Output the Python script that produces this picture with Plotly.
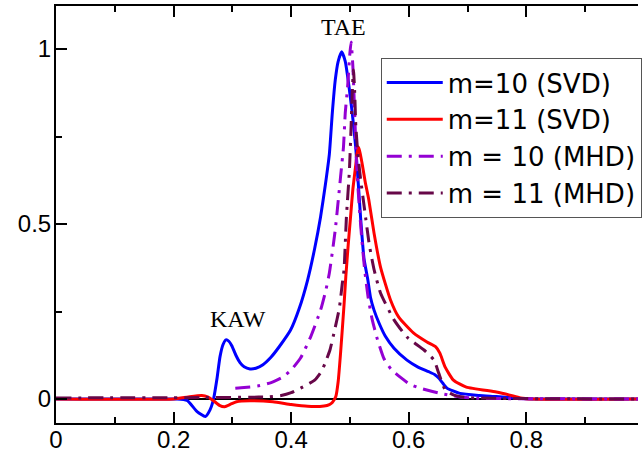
import plotly.graph_objects as go

# m=10 (SVD)
blue_x = [0.0, 0.18, 0.205, 0.223, 0.24, 0.254, 0.262, 0.268, 0.274, 0.279, 0.284, 0.289, 0.294, 0.299,
          0.306, 0.313, 0.32, 0.33, 0.34, 0.352, 0.366, 0.38, 0.399, 0.414, 0.428, 0.44, 0.45, 0.458,
          0.465, 0.470, 0.475, 0.48, 0.486, 0.492, 0.497, 0.504, 0.51, 0.518, 0.524, 0.53, 0.535, 0.541,
          0.55, 0.56, 0.575, 0.597, 0.615, 0.634, 0.644, 0.651, 0.658, 0.665, 0.687, 0.72, 0.749, 0.78,
          0.82, 0.99]
blue_y = [0.0, 0.0, 0.0, -0.004, -0.036, -0.05, -0.031, 0.0, 0.06, 0.121, 0.155, 0.169, 0.165, 0.152,
          0.125, 0.104, 0.092, 0.086, 0.088, 0.098, 0.12, 0.15, 0.197, 0.26, 0.34, 0.43, 0.52, 0.61,
          0.70, 0.817, 0.911, 0.965, 0.992, 0.965, 0.911, 0.816, 0.716, 0.521, 0.40, 0.345, 0.29, 0.254,
          0.215, 0.18, 0.145, 0.111, 0.092, 0.078, 0.07, 0.06, 0.045, 0.031, 0.016, 0.01, 0.007, 0.003,
          0.0, 0.0]

# m=11 (SVD)
red_x = [0.0, 0.2, 0.225, 0.248, 0.258, 0.268, 0.278, 0.287, 0.297, 0.307, 0.33, 0.369, 0.40, 0.428,
         0.456, 0.465, 0.47, 0.476, 0.48, 0.484, 0.49, 0.493, 0.497, 0.501, 0.505, 0.51, 0.512, 0.5145,
         0.517, 0.521, 0.526, 0.532, 0.541, 0.552, 0.569, 0.583, 0.608, 0.631, 0.646, 0.653, 0.662, 0.676,
         0.698, 0.749, 0.772, 0.79, 0.81, 0.99]
red_y = [0.0, 0.0, 0.006, 0.01, 0.006, -0.005, -0.018, -0.022, -0.015, -0.008, -0.005, -0.008, -0.016, -0.021,
         -0.02, -0.016, -0.01, 0.007, 0.05, 0.13, 0.27, 0.35, 0.44, 0.52, 0.60, 0.67, 0.70, 0.72,
         0.705, 0.67, 0.62, 0.57, 0.474, 0.377, 0.283, 0.234, 0.189, 0.163, 0.149, 0.131, 0.091, 0.054,
         0.034, 0.02, 0.011, 0.003, 0.0, 0.0]

# m = 10 (MHD)
vio_x = [0.305, 0.32, 0.343, 0.366, 0.386, 0.40, 0.416, 0.433, 0.45, 0.459, 0.465, 0.475, 0.484, 0.489,
         0.492, 0.496, 0.50, 0.502, 0.505, 0.508, 0.511, 0.515, 0.52, 0.525, 0.531, 0.538, 0.547, 0.558,
         0.57, 0.585, 0.602, 0.619, 0.651, 0.687, 0.72, 0.99]
vio_y = [0.031, 0.033, 0.037, 0.047, 0.063, 0.083, 0.117, 0.177, 0.254, 0.311, 0.36, 0.483, 0.634, 0.72,
         0.817, 0.891, 0.99, 1.02, 0.95, 0.82, 0.68, 0.57, 0.46, 0.37, 0.29, 0.226, 0.169, 0.115,
         0.085, 0.063, 0.042, 0.031, 0.017, 0.006, 0.002, 0.0]

# m = 11 (MHD)
mar_x = [0.0, 0.25, 0.33, 0.36, 0.383, 0.40, 0.416, 0.44, 0.452, 0.459, 0.466, 0.474, 0.482, 0.487, 0.49,
         0.494, 0.499, 0.502, 0.504, 0.506, 0.508, 0.510, 0.514, 0.518, 0.525, 0.533, 0.541, 0.552, 0.575,
         0.597, 0.626, 0.643, 0.651, 0.662, 0.677, 0.70, 0.99]
mar_y = [0.003, 0.004, 0.005, 0.006, 0.01, 0.018, 0.031, 0.054, 0.08, 0.108, 0.14, 0.197, 0.26, 0.33, 0.37,
         0.52, 0.65, 0.78, 0.88, 0.94, 0.88, 0.78, 0.69, 0.63, 0.54, 0.44, 0.37, 0.303, 0.226,
         0.177, 0.14, 0.111, 0.074, 0.026, 0.011, 0.004, 0.0]

series_names = ["m=10 (SVD)", "m=11 (SVD)", "m = 10 (MHD)", "m = 11 (MHD)"]
annot_text = ["TAE", "KAW"]
annot_x = [0.489, 0.31]
annot_y = [1.063, 0.229]

dashdot = "15px,7px,3px,7px"

fig = go.Figure()
fig.add_trace(go.Scatter(x=blue_x, y=blue_y, mode="lines", name=series_names[0],
                         line=dict(color="#0000FF", width=3, shape="spline", smoothing=0.5)))
fig.add_trace(go.Scatter(x=red_x, y=red_y, mode="lines", name=series_names[1],
                         line=dict(color="#FF0000", width=3, shape="spline", smoothing=0.5)))
fig.add_trace(go.Scatter(x=vio_x, y=vio_y, mode="lines", name=series_names[2],
                         line=dict(color="#9400D3", width=3, dash=dashdot, shape="spline", smoothing=0.5)))
fig.add_trace(go.Scatter(x=mar_x, y=mar_y, mode="lines", name=series_names[3],
                         line=dict(color="#670748", width=3, dash=dashdot, shape="spline", smoothing=0.5)))

for t, ax, ay in zip(annot_text, annot_x, annot_y):
    fig.add_annotation(x=ax, y=ay, text=t, showarrow=False,
                       font=dict(family="Liberation Serif, Times New Roman, serif", size=24, color="black"))

tickfont = dict(family="Liberation Sans, Arial, sans-serif", size=24, color="black")
fig.update_layout(
    width=642, height=452,
    margin=dict(l=56, r=0, t=6, b=29),
    paper_bgcolor="white", plot_bgcolor="white",
    showlegend=True,
    legend=dict(x=0.558, y=0.875, xanchor="left", yanchor="top",
                bgcolor="white", bordercolor="#555555", borderwidth=1,
                font=dict(family="DejaVu Sans, sans-serif", size=26, color="black"),
                tracegroupgap=0, itemwidth=56),
    xaxis=dict(range=[0, 0.99], showgrid=False, zeroline=False, automargin=False,
               showline=True, linecolor="black", linewidth=2, mirror="allticks",
               ticks="inside", ticklen=11, tickwidth=2, tickcolor="black",
               tick0=0, dtick=0.2, tickfont=tickfont, ticklabelstandoff=-6,
               minor=dict(dtick=0.1, tick0=0, ticks="inside", ticklen=6, tickwidth=2, tickcolor="black", showgrid=False)),
    yaxis=dict(range=[-0.0686, 1.123], showgrid=False, automargin=False,
               zeroline=True, zerolinecolor="black", zerolinewidth=2,
               showline=True, linecolor="black", linewidth=2, mirror=False,
               ticks="inside", ticklen=11, tickwidth=2, tickcolor="black",
               tickvals=[0, 0.5, 1], ticktext=["0", "0.5", "1"], tickfont=tickfont, ticklabelstandoff=-2,
               minor=dict(tickvals=[0.25, 0.75], ticks="inside", ticklen=6, tickwidth=2, tickcolor="black", showgrid=False)),
)

fig.write_html("out.html")
